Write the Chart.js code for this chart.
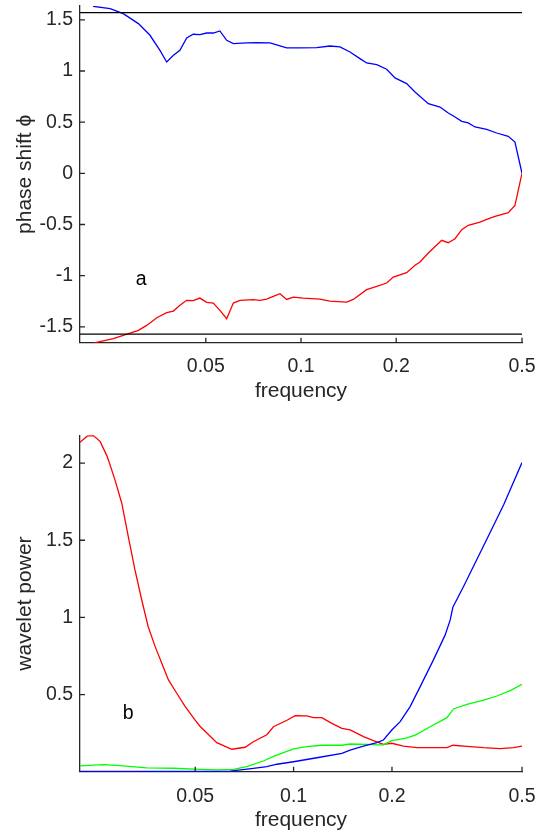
<!DOCTYPE html>
<html>
<head>
<meta charset="utf-8">
<script src="https://cdn.jsdelivr.net/npm/chart.js@4.4.1/dist/chart.umd.min.js"></script>
<style>
html, body { margin: 0; padding: 0; background: #fff; }
#wrap { position: relative; width: 542px; height: 832px; }
canvas { position: absolute; left: 0; }
</style>
</head>
<body>
<div id="wrap">
  <canvas id="phaseGraph" width="542" height="416" style="top:0"></canvas>
  <canvas id="powerGraph" width="542" height="416" style="top:416px"></canvas>
</div>
<script>
// ---- panel a: phase shift ----
const phaseBlueFreq = [0.0220, 0.0249, 0.0274, 0.0306, 0.0333, 0.0358, 0.0376, 0.0395, 0.0414, 0.0435,
  0.0456, 0.0479, 0.0503, 0.0528, 0.0554, 0.0582, 0.0611, 0.0673, 0.0724, 0.0798, 0.0848, 0.0901,
  0.0993, 0.1121, 0.1235, 0.1328, 0.1429, 0.1536, 0.1613, 0.1736, 0.1866, 0.1983, 0.2158, 0.2294,
  0.2528, 0.2752, 0.2923, 0.3070, 0.3224, 0.3380, 0.3550, 0.3866, 0.4160, 0.4524, 0.4750, 0.5];
const phaseBlue = [1.632, 1.610, 1.560, 1.463, 1.349, 1.202, 1.088, 1.153, 1.202, 1.323,
  1.359, 1.356, 1.371, 1.371, 1.391, 1.300, 1.268, 1.274, 1.277, 1.274, 1.251, 1.225,
  1.225, 1.229, 1.244, 1.235, 1.186, 1.121, 1.078, 1.062, 1.017, 0.932, 0.877, 0.795,
  0.681, 0.648, 0.589, 0.550, 0.508, 0.492, 0.453, 0.430, 0.394, 0.362, 0.306, 0.0];

const phaseRedFreq = [0.0220, 0.0255, 0.0288, 0.0306, 0.0325, 0.0350, 0.0376, 0.0395, 0.0414, 0.0435,
  0.0456, 0.0479, 0.0503, 0.0528, 0.0554, 0.0582, 0.0611, 0.0641, 0.0707, 0.0742, 0.0779, 0.0817,
  0.0858, 0.0901, 0.0945, 0.1017, 0.1148, 0.1235, 0.1395, 0.1463, 0.1613, 0.1736, 0.1866, 0.1958,
  0.2158, 0.2294, 0.2379, 0.2528, 0.2786, 0.2923, 0.3070, 0.3224, 0.3380, 0.3682, 0.3866, 0.4108,
  0.4524, 0.4750, 0.5];
const phaseRed = [-1.659, -1.616, -1.561, -1.535, -1.486, -1.411, -1.362, -1.346, -1.290, -1.241,
  -1.244, -1.219, -1.261, -1.268, -1.339, -1.420, -1.268, -1.241, -1.235, -1.241, -1.229, -1.202,
  -1.176, -1.232, -1.209, -1.219, -1.229, -1.248, -1.258, -1.232, -1.137, -1.105, -1.072, -1.014,
  -0.971, -0.899, -0.867, -0.779, -0.655, -0.678, -0.639, -0.551, -0.508, -0.476, -0.450, -0.420,
  -0.384, -0.313, 0.0];

// limits at +/- pi/2
const halfPiFreq = [0.02, 0.5];
const halfPi = [Math.PI / 2, Math.PI / 2];

const phaseYTicks = [-1.5, -1, -0.5, 0, 0.5, 1, 1.5];
const freqTicks = [0.05, 0.1, 0.2, 0.5];

// ---- panel b: wavelet power ----
const powerRedFreq = [0.0222, 0.0234, 0.0244, 0.0256, 0.0269, 0.0284, 0.0298, 0.0312, 0.0327, 0.0343,
  0.0359, 0.0377, 0.0395, 0.0414, 0.0439, 0.0466, 0.0499, 0.0517, 0.0582, 0.0647, 0.0711, 0.0753,
  0.0828, 0.0868, 0.0954, 0.1011, 0.1098, 0.1150, 0.1220, 0.1309, 0.1405, 0.1489, 0.1636, 0.1755,
  0.1883, 0.1998, 0.2169, 0.2384, 0.2946, 0.3072, 0.3392, 0.3812, 0.4289, 0.4711, 0.5];
const powerRed = [2.135, 2.176, 2.178, 2.139, 2.042, 1.891, 1.740, 1.524, 1.308, 1.113,
  0.940, 0.811, 0.703, 0.595, 0.509, 0.422, 0.336, 0.295, 0.189, 0.146, 0.159, 0.195,
  0.240, 0.292, 0.334, 0.364, 0.362, 0.351, 0.351, 0.314, 0.282, 0.271, 0.228, 0.202,
  0.178, 0.185, 0.167, 0.156, 0.156, 0.172, 0.165, 0.156, 0.150, 0.156, 0.167];

const powerGreenFreq = [0.0222, 0.0262, 0.0294, 0.0355, 0.0429, 0.0517, 0.0582, 0.0654, 0.0719, 0.0808,
  0.0868, 0.0999, 0.1098, 0.1220, 0.1405, 0.1489, 0.1675, 0.1798, 0.1883, 0.1998, 0.2195, 0.2356,
  0.2617, 0.2946, 0.3086, 0.3392, 0.3812, 0.4191, 0.4602, 0.5];
const powerGreen = [0.038, 0.046, 0.040, 0.025, 0.023, 0.016, 0.012, 0.016, 0.033, 0.070,
  0.100, 0.148, 0.163, 0.172, 0.172, 0.180, 0.178, 0.174, 0.174, 0.202, 0.217, 0.238,
  0.292, 0.351, 0.407, 0.437, 0.465, 0.491, 0.526, 0.567];

const powerBlueFreq = [0.0222, 0.0400, 0.0600, 0.0639, 0.0753, 0.0828, 0.0889, 0.0999, 0.1178, 0.1405,
  0.1489, 0.1636, 0.1798, 0.1883, 0.1998, 0.2119, 0.2273, 0.2440, 0.2679, 0.2910, 0.3015, 0.3072,
  0.3312, 0.3812, 0.4391, 0.5];
const powerBlue = [0.002, 0.002, 0.003, 0.005, 0.022, 0.033, 0.049, 0.065, 0.091, 0.120,
  0.141, 0.167, 0.189, 0.206, 0.271, 0.325, 0.422, 0.552, 0.725, 0.887, 0.984, 1.066,
  1.200, 1.463, 1.729, 2.003];

const powerYTicks = [0.5, 1, 1.5, 2];

const FONT = "'Liberation Sans', Arial, Helvetica, sans-serif";
const AXIS_COLOR = '#262626';

function toPoints(xs, ys) {
  return xs.map((x, i) => ({ x: x, y: ys[i] }));
}

function lineSet(xs, ys, color) {
  return {
    data: toPoints(xs, ys),
    borderColor: color,
    backgroundColor: color,
    borderWidth: 1.3,
    pointRadius: 0,
    fill: false,
    tension: 0
  };
}

// inward tick marks (matlab style) and the panel letter
const axesExtras = {
  id: 'axesExtras',
  afterDraw(chart, args, opts) {
    const c = chart.ctx;
    const area = chart.chartArea;
    const xs = chart.scales.x, ys = chart.scales.y;
    c.save();
    c.strokeStyle = AXIS_COLOR;
    c.lineWidth = 1.3;
    c.beginPath();
    xs.ticks.forEach(t => {
      const px = xs.getPixelForValue(t.value);
      c.moveTo(px, area.bottom);
      c.lineTo(px, area.bottom - 5);
    });
    ys.ticks.forEach(t => {
      const py = ys.getPixelForValue(t.value);
      c.moveTo(area.left, py);
      c.lineTo(area.left + 5, py);
    });
    c.stroke();
    if (opts.text) {
      c.fillStyle = '#000';
      c.font = '19.5px ' + FONT;
      c.textAlign = 'left';
      c.textBaseline = 'middle';
      c.fillText(opts.text, xs.getPixelForValue(opts.x), ys.getPixelForValue(opts.y));
    }
    c.restore();
  }
};

function makeOptions(cfg) {
  return {
    responsive: false,
    animation: false,
    devicePixelRatio: 1,
    layout: { padding: { left: 0, right: 20, top: cfg.padTop, bottom: 0 } },
    plugins: {
      legend: { display: false },
      tooltip: { enabled: false },
      axesExtras: cfg.letter
    },
    scales: {
      x: {
        type: 'logarithmic',
        min: cfg.xMin,
        max: 0.5,
        border: { color: AXIS_COLOR, width: 1.3 },
        grid: { display: true, drawOnChartArea: false, drawTicks: false },
        ticks: {
          autoSkip: false,
          maxRotation: 0,
          padding: cfg.xTickPad,
          color: AXIS_COLOR,
          font: { family: FONT, size: 19.5 },
          callback: v => String(v)
        },
        afterBuildTicks: s => { s.ticks = freqTicks.map(v => ({ value: v })); },
        afterFit: s => {
          s.height = cfg.xAxisHeight;
          s.paddingLeft = 0; s.paddingRight = 0;
        },
        title: {
          display: true,
          text: 'frequency',
          color: AXIS_COLOR,
          font: { family: FONT, size: 21, lineHeight: 1 },
          padding: { top: 0, bottom: cfg.xTitlePad }
        }
      },
      y: {
        min: cfg.yMin,
        max: cfg.yMax,
        border: { color: AXIS_COLOR, width: 1.3 },
        grid: { display: true, drawOnChartArea: false, drawTicks: false },
        ticks: {
          autoSkip: false,
          padding: 7,
          color: AXIS_COLOR,
          font: { family: FONT, size: 19.5 },
          callback: v => String(v)
        },
        afterBuildTicks: s => { s.ticks = cfg.yTicks.map(v => ({ value: v })); },
        afterFit: s => {
          s.width = 80;
          s.paddingTop = 0; s.paddingBottom = 0;
        },
        title: {
          display: true,
          text: cfg.yTitle,
          color: AXIS_COLOR,
          font: { family: FONT, size: 21 },
          padding: { top: 12.3, bottom: 0 }
        }
      }
    }
  };
}

new Chart(document.getElementById('phaseGraph').getContext('2d'), {
  type: 'line',
  data: {
    datasets: [
      lineSet(halfPiFreq, halfPi, '#000000'),
      lineSet(halfPiFreq, halfPi.map(v => -v), '#000000'),
      lineSet(phaseBlueFreq, phaseBlue, '#0000ff'),
      lineSet(phaseRedFreq, phaseRed, '#ff0000')
    ]
  },
  options: makeOptions({
    padTop: 6, xMin: 0.02, yMin: -1.655, yMax: 1.635,
    yTicks: phaseYTicks, yTitle: 'phase shift \u03d5',
    xAxisHeight: 416 - 342.7, xTickPad: 12, xTitlePad: 14.5,
    letter: { text: 'a', x: 0.03, y: -1.04 }
  }),
  plugins: [axesExtras]
});

new Chart(document.getElementById('powerGraph').getContext('2d'), {
  type: 'line',
  data: {
    datasets: [
      lineSet(powerBlueFreq, powerBlue, '#0000ff'),
      lineSet(powerGreenFreq, powerGreen, '#00ff00'),
      lineSet(powerRedFreq, powerRed, '#ff0000')
    ]
  },
  options: makeOptions({
    padTop: 19.3, xMin: 0.0222, yMin: 0, yMax: 2.18,
    yTicks: powerYTicks, yTitle: 'wavelet power',
    xAxisHeight: 416 - 355.8, xTickPad: 13, xTitlePad: 1,
    letter: { text: 'b', x: 0.03, y: 0.38 }
  }),
  plugins: [axesExtras]
});
</script>
</body>
</html>
